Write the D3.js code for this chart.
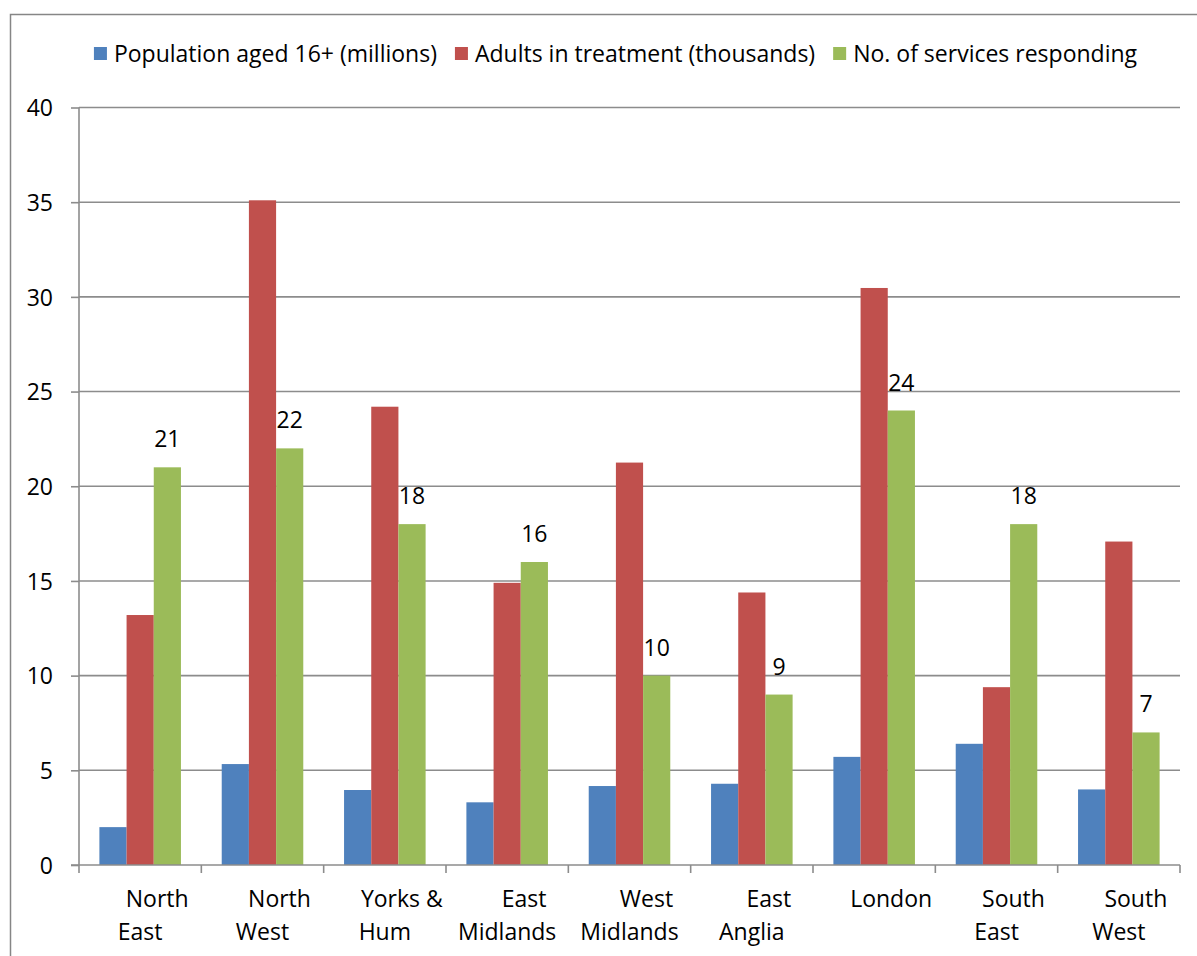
<!DOCTYPE html>
<html>
<head>
<meta charset="utf-8">
<script src="https://cdn.jsdelivr.net/npm/d3@7"></script>
<style>
  html, body { margin: 0; padding: 0; background: #fff; }
  svg { display: block; }
  text { font-family: "Open Sans", "Noto Sans", sans-serif; fill: #000; }
</style>
</head>
<body>
<svg id="chart" width="1197" height="956"></svg>
<script>
// Regions (line breaks mark where the axis label wraps)
const categories = [
  "North\nEast", "North\nWest", "Yorks &\nHum", "East\nMidlands",
  "West\nMidlands", "East\nAnglia", "London", "South\nEast", "South\nWest"
];
const seriesNames = [
  "Population aged 16+ (millions)",
  "Adults in treatment (thousands)",
  "No. of services responding"
];
const population = [2.0, 5.33, 3.96, 3.31, 4.17, 4.29, 5.71, 6.40, 3.99];
const adults     = [13.2, 35.1, 24.2, 14.9, 21.25, 14.39, 30.47, 9.39, 17.08];
const services   = [21, 22, 18, 16, 10, 9, 24, 18, 7];
const yTicks     = [0, 5, 10, 15, 20, 25, 30, 35, 40];

const colors = ["#4F81BD", "#C0504D", "#9BBB59"];
const seriesValues = [population, adults, services];

const svg = d3.select("#chart");
const plot = { left: 79, right: 1180, top: 107.5, bottom: 865 };

// Outer chart frame
svg.append("rect")
  .attr("x", 10.5).attr("y", 14.5)
  .attr("width", 1300).attr("height", 1000)
  .attr("fill", "#fff").attr("stroke", "#868686").attr("stroke-width", 1.5);

const x0 = d3.scaleBand()
  .domain(categories)
  .range([plot.left, plot.right])
  .paddingInner(1 / 3)
  .paddingOuter(1 / 6);

const x1 = d3.scaleBand()
  .domain(d3.range(seriesNames.length))
  .range([0, x0.bandwidth()]);

const y = d3.scaleLinear().domain([0, 40]).range([plot.bottom, plot.top]);

// Horizontal gridlines
svg.append("g")
  .selectAll("line")
  .data(yTicks.filter(d => d > 0))
  .join("line")
  .attr("x1", plot.left).attr("x2", plot.right)
  .attr("y1", d => y(d)).attr("y2", d => y(d))
  .attr("stroke", "#8c8c8c").attr("stroke-width", 1.6);

// Bars
const groups = svg.append("g")
  .selectAll("g")
  .data(categories)
  .join("g")
  .attr("transform", d => `translate(${x0(d)},0)`);

groups.selectAll("rect")
  .data((d, i) => seriesValues.map((vals, s) => ({ s, v: vals[i] })))
  .join("rect")
  .attr("x", d => x1(d.s))
  .attr("width", x1.bandwidth())
  .attr("y", d => y(d.v))
  .attr("height", d => y(0) - y(d.v))
  .attr("fill", d => colors[d.s]);

// Value labels above the services bars
groups.append("text")
  .attr("x", x1(2) + x1.bandwidth() / 2)
  .attr("y", (d, i) => y(services[i]) - 20)
  .attr("text-anchor", "middle")
  .attr("font-size", 23)
  .text((d, i) => services[i]);

// Y axis
const yAxis = d3.axisLeft(y)
  .tickValues(yTicks)
  .tickSize(8)
  .tickPadding(18)
  .tickFormat(d3.format("d"));
const yg = svg.append("g")
  .attr("transform", `translate(${plot.left},0)`)
  .call(yAxis);
yg.select(".domain").attr("stroke", "#8c8c8c").attr("stroke-width", 1.6)
  .attr("d", `M0,${plot.top}V${plot.bottom}`);
yg.selectAll(".tick line").attr("stroke", "#8c8c8c").attr("stroke-width", 1.6);
yg.selectAll(".tick text").attr("font-size", 23).attr("font-family", "Open Sans")
  .attr("fill", "#000").attr("dy", "0.36em");

// X axis with ticks on category boundaries
const boundaries = categories.map(c => x0(c) - x0.step() * x0.paddingInner() / 2)
  .concat([plot.right]);
const xg = svg.append("g");
xg.append("line")
  .attr("x1", plot.left - 8).attr("x2", plot.right)
  .attr("y1", plot.bottom).attr("y2", plot.bottom)
  .attr("stroke", "#8c8c8c").attr("stroke-width", 1.6);
xg.selectAll("line.tk")
  .data(boundaries)
  .join("line")
  .attr("class", "tk")
  .attr("x1", d => d).attr("x2", d => d)
  .attr("y1", plot.bottom).attr("y2", plot.bottom + 8)
  .attr("stroke", "#8c8c8c").attr("stroke-width", 1.6);

// Category labels (first line sits slightly right, as the wrapped label does)
const labels = xg.selectAll("text.cat")
  .data(categories)
  .join("text")
  .attr("class", "cat")
  .attr("text-anchor", "middle")
  .attr("font-size", 23);
labels.each(function (d) {
  const lines = d.split("\n");
  const cx = x0(d) + x0.bandwidth() / 2;
  const t = d3.select(this);
  lines.forEach((ln, k) => {
    t.append("tspan")
      .attr("x", cx + (k === 0 ? 17 : 0))
      .attr("y", 907 + k * 32.5)
      .text(ln);
  });
});

// Legend
const legend = svg.append("g");
const items = legend.selectAll("g")
  .data(seriesNames)
  .join("g");
items.append("rect")
  .attr("width", 13).attr("height", 13)
  .attr("y", 47)
  .attr("fill", (d, i) => colors[i]);
items.append("text")
  .attr("x", 20)
  .attr("y", 62)
  .attr("font-size", 23)
  .text(d => d);
let cursor = 0;
const widths = [];
items.each(function () {
  const w = this.querySelector("text").getComputedTextLength() + 20;
  widths.push(w);
});
const gap = 18;
const total = d3.sum(widths) + gap * (widths.length - 1);
cursor = 615.5 - total / 2;
items.attr("transform", (d, i) => {
  const tx = cursor;
  cursor += widths[i] + gap;
  return `translate(${tx},0)`;
});
</script>
</body>
</html>
